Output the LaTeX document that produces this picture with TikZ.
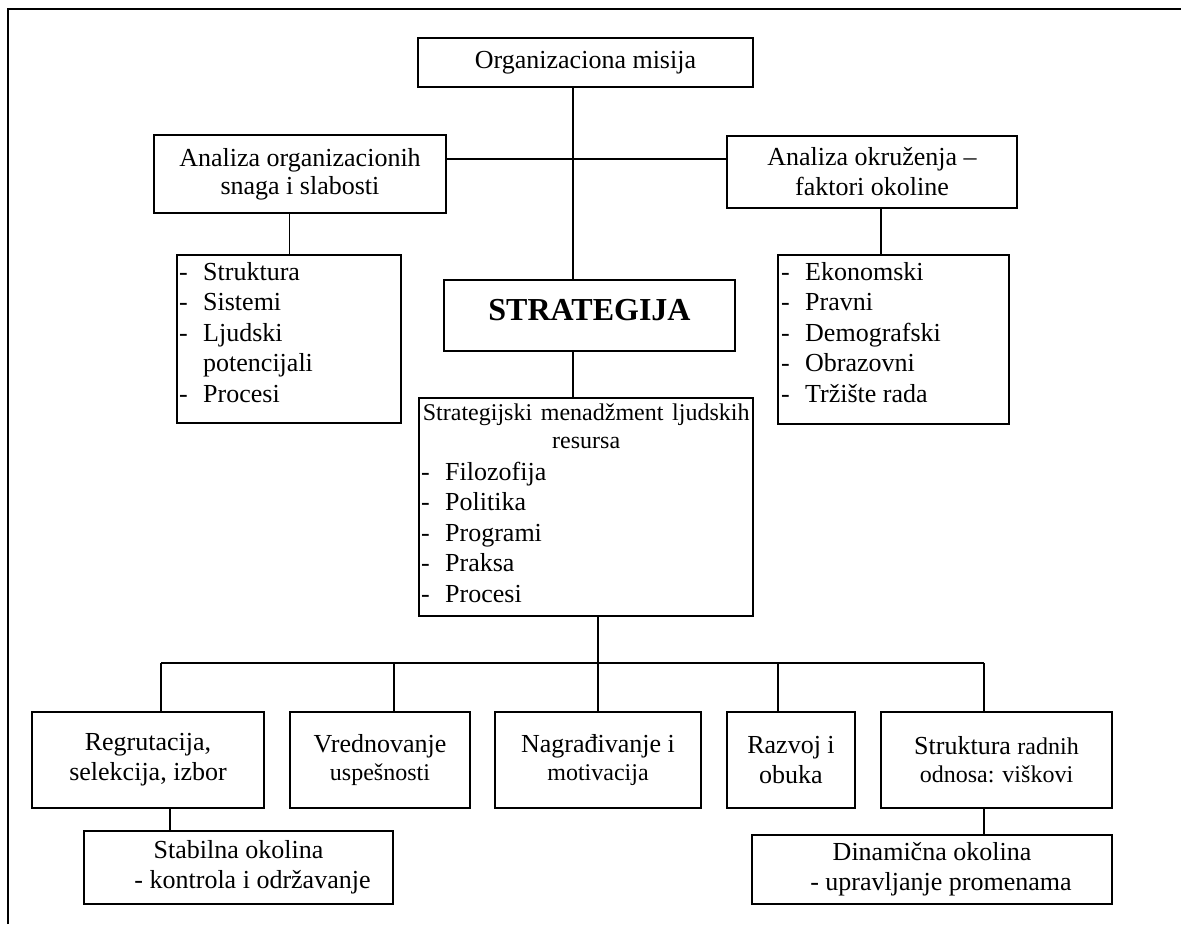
\documentclass[tikz,border=0pt]{standalone}
\usepackage{fontspec}
\setmainfont{Liberation Serif}
% font sizes used in the chart (1pt = 1 unit of the grid)
\newcommand\fnL{\fontsize{26}{30}\selectfont}
\newcommand\fnS{\fontsize{24}{28}\selectfont}
\newcommand\fnB{\fontsize{32}{36}\selectfont\bfseries}
\newcommand\fnList{\fontsize{26}{30.5}\selectfont}
% list bullet: a dash followed by a fixed indent
\newcommand\itm{\makebox[24pt][l]{-}}

\begin{document}
\begin{tikzpicture}[x=1pt,y=-1pt,
  box/.style={draw, line width=1.8pt, inner sep=2pt, align=center, font=\fnL},
  link/.style={line width=1.8pt},
  frame/.style={line width=2.6pt},
  listtext/.style={anchor=north west, inner sep=0pt, align=left, font=\fnList}]
\useasboundingbox (0,0) rectangle (1181,924);

% page frame
\draw[frame] (8,924) -- (8,9) -- (1181,9);

% upper part
\node[box, minimum width=335pt, minimum height=49pt] (misija) at (585.5,62.5) {Organizaciona misija};
\node[box, minimum width=292pt, minimum height=78pt] (org) at (300,174) {Analiza organizacionih\\[-2pt]snaga i slabosti};
\node[box, minimum width=290pt, minimum height=72pt] (okr) at (872,172) {Analiza okruženja –\\faktori okoline};

\node[box, minimum width=224pt, minimum height=168pt] (lst1) at (289,339) {};
\node[listtext] (lst1t) at (179,262) {\itm Struktura\\\itm Sistemi\\\itm Ljudski\\\hspace*{24pt}potencijali\\\itm Procesi};

\node[box, minimum width=231pt, minimum height=169pt] (lst2) at (893.5,339.5) {};
\node[listtext] (lst2t) at (781,262) {\itm Ekonomski\\\itm Pravni\\\itm Demografski\\\itm Obrazovni\\\itm Tržište rada};

\node[box, font=\fnB, text depth=12pt, minimum width=291pt, minimum height=71pt] (strat) at (589.5,315.5) {STRATEGIJA};

\node[box, minimum width=334pt, minimum height=218pt] (hrm) at (586,507) {};
\node[listtext, text width=330pt] (hrmt) at (421,403.5) {\makebox[330pt]{\fnS Strategijski menadžment ljudskih}\\[-2.5pt]\makebox[330pt]{\fnS resursa}\\[1.5pt]\itm Filozofija\\\itm Politika\\\itm Programi\\\itm Praksa\\\itm Procesi};

% lower row
\node[box, minimum width=231.5pt, minimum height=96pt] (regr) at (148,760) {Regrutacija,\\selekcija, izbor};
\node[box, minimum width=180pt, minimum height=96pt] (vred) at (380,760) {Vrednovanje\\[-2pt]{\fnS uspešnosti}};
\node[box, minimum width=206pt, minimum height=96pt] (nagr) at (598,760) {Nagrađivanje i\\[-2pt]{\fnS motivacija}};
\node[box, minimum width=128pt, minimum height=96pt] (razv) at (791,760) {Razvoj i\\obuka};
\node[box, minimum width=231pt, minimum height=96pt] (strk) at (996.5,760) {Struktura {\fnS radnih}\\[-2pt]{\fnS odnosa: viškovi}};

\node[box, minimum width=309pt, minimum height=73pt] (stab) at (238.5,867.5) {Stabilna okolina\\\hspace*{28pt}- kontrola i održavanje};
\node[box, minimum width=360pt, minimum height=69pt] (dina) at (932,869.5) {Dinamična okolina\\\hspace*{18pt}- upravljanje promenama};

% connector guides
\coordinate (spine) at (573,0);
\coordinate (hline) at (0,159);
\coordinate (cOrg) at (289.5,0);
\coordinate (cOkr) at (881,0);
\coordinate (bus) at (0,663);
\coordinate (dRegr) at (161,0);
\coordinate (dVred) at (394,0);
\coordinate (dRazv) at (778,0);
\coordinate (dStrk) at (984,0);
\coordinate (cStab) at (170,0);

% connectors
\draw[link] (misija.south -| spine) -- (strat.north -| spine);
\draw[link] (org.east |- hline) -- (okr.west |- hline);
\draw[link] (org.south -| cOrg) -- (lst1.north -| cOrg);
\draw[link] (okr.south -| cOkr) -- (lst2.north -| cOkr);
\draw[link] (strat.south -| spine) -- (hrm.north -| spine);
\draw[link] (hrm.south -| nagr.north) -- (nagr.north);
\draw[link] (bus -| dRegr) -- (bus -| dStrk);
\draw[link] (bus -| dRegr) -- (regr.north -| dRegr);
\draw[link] (bus -| dVred) -- (vred.north -| dVred);
\draw[link] (bus -| dRazv) -- (razv.north -| dRazv);
\draw[link] (bus -| dStrk) -- (strk.north -| dStrk);
\draw[link] (regr.south -| cStab) -- (stab.north -| cStab);
\draw[link] (strk.south -| dStrk) -- (dina.north -| dStrk);
\end{tikzpicture}
\end{document}
